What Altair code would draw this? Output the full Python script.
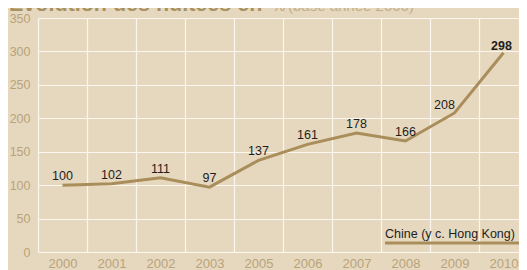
import altair as alt
import pandas as pd

years = ["2000", "2001", "2002", "2003", "2005", "2006", "2007", "2008", "2009", "2010"]
values = [100, 102, 111, 97, 137, 161, 178, 166, 208, 298]
y_ticks = [0, 50, 100, 150, 200, 250, 300, 350]
series_name = "Chine (y c. Hong Kong)"
title_main = "Evolution des nuitées en"
title_unit = "%"
title_note = "(base année 2000)"

df = pd.DataFrame({"year": years, "value": values})

BG = "#e6d8be"
GRID = "#fbf7ef"
LINE = "#a98d5a"
AXIS_TXT = "#b8a37b"
TXT = "#1e1e1e"
FONT = "Liberation Sans"

x_enc = alt.X("year:N", sort=years,
              scale=alt.Scale(range=[0, 490], paddingInner=0, paddingOuter=0),
              axis=alt.Axis(title=None, labelAngle=0, tickBand="extent", grid=True,
                            ticks=False, domain=False, labelPadding=5,
                            labelFontSize=13, labelColor=AXIS_TXT, gridColor=GRID,
                            gridWidth=1.2, gridOpacity=1))
y_enc = alt.Y("value:Q", scale=alt.Scale(domain=[0, 350], nice=False),
              axis=alt.Axis(title=None, values=y_ticks, grid=True, ticks=False,
                            domain=False, labelPadding=8, labelFontSize=12.5,
                            labelColor=AXIS_TXT, gridColor=GRID, gridWidth=1.2,
                            gridOpacity=1))

base = alt.Chart(df).encode(x=x_enc, y=y_enc)

line = base.mark_line(color=LINE, strokeWidth=3)

lbl_normal = base.transform_filter(
    "datum.value != 208 && datum.value != 298"
).mark_text(dy=-5, fontSize=12.5, color=TXT, font=FONT,
            baseline="alphabetic").encode(text="value:Q")
lbl_208 = base.transform_filter("datum.value == 208").mark_text(
    dy=-4, dx=-10, fontSize=12.5, color=TXT, font=FONT,
    baseline="alphabetic").encode(text="value:Q")
lbl_298 = base.transform_filter("datum.value == 298").mark_text(
    dy=-3, dx=-2, fontSize=12.5, fontWeight="bold", color=TXT,
    font=FONT, baseline="alphabetic").encode(text="value:Q")

legend_df = pd.DataFrame({"name": [series_name]})
legend_text = alt.Chart(legend_df).mark_text(
    align="left", baseline="alphabetic", fontSize=12.5, color=TXT,
    font=FONT).encode(x=alt.value(347), y=alt.value(220), text="name:N")
legend_line = alt.Chart(legend_df).mark_rule(color=LINE, strokeWidth=3).encode(
    x=alt.value(347), x2=alt.value(500), y=alt.value(225))

title_df = pd.DataFrame({"t": [title_main], "u": [title_unit], "n": [title_note]})
t1 = alt.Chart(title_df).mark_text(
    align="left", baseline="alphabetic", fontSize=21.5, fontWeight="bold",
    color="#a8925f", font=FONT).encode(
    x=alt.value(-29), y=alt.value(-7), text="t:N")
t2 = alt.Chart(title_df).mark_text(
    align="left", baseline="alphabetic", fontSize=15, color="#b9a57c",
    font=FONT).encode(x=alt.value(234), y=alt.value(-7), text="u:N")
t3 = alt.Chart(title_df).mark_text(
    align="left", baseline="alphabetic", fontSize=15, color="#c2b08a",
    font=FONT).encode(x=alt.value(250), y=alt.value(-7), text="n:N")

chart = alt.layer(
    line, lbl_normal, lbl_208, lbl_298, legend_line, legend_text, t1, t2, t3
).properties(
    width=481, height=234,
    autosize=alt.AutoSizeParams(type="none"),
    padding={"left": 30, "top": 10, "right": 0, "bottom": 18},
    background=BG,
).configure_view(stroke=None).configure_axis(
    labelFont=FONT
)

chart.save("out.html", embed_options={"renderer": "svg", "actions": False})
